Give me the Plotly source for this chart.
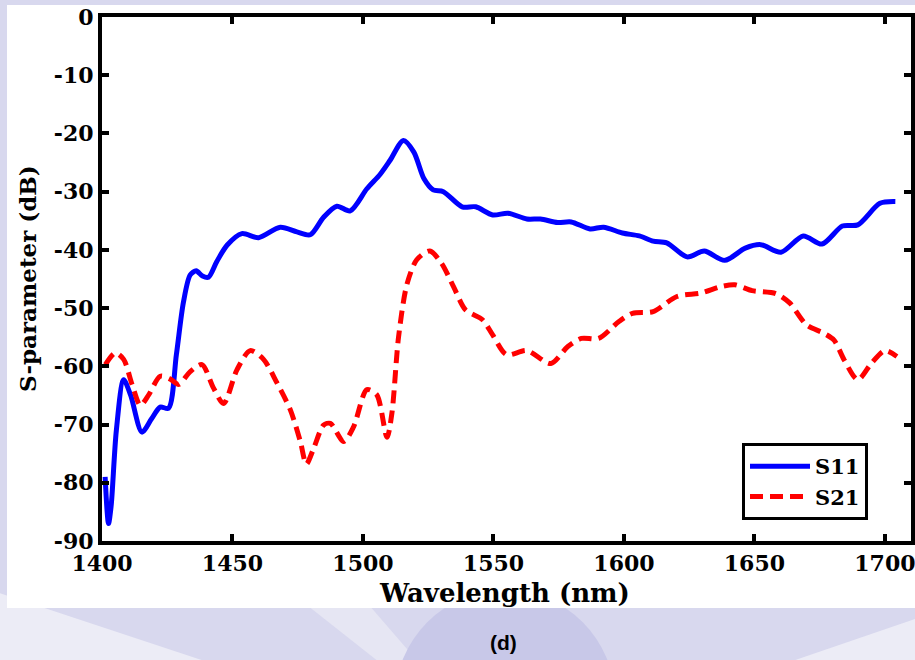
import plotly.graph_objects as go

# Wavelength sweep (nm) and S-parameter magnitudes (dB)
s11_wavelength = [1401.2, 1402.5, 1403.5, 1405.5, 1408.3, 1411.0, 1415.3, 1419.0, 1422.3, 1425.5,
                  1428.5, 1431.2, 1433.8, 1436.1, 1438.5, 1440.8, 1444.0, 1447.9, 1453.6, 1460.0,
                  1468.3, 1474.7, 1479.8, 1484.9, 1490.0, 1495.1, 1501.5, 1506.6, 1510.4, 1515.5,
                  1519.5, 1523.4, 1526.9, 1530.8, 1538.0, 1543.2, 1549.7, 1555.6, 1562.8, 1568.0,
                  1574.6, 1579.8, 1587.0, 1592.2, 1599.4, 1605.9, 1611.2, 1616.4, 1624.2, 1630.8,
                  1638.6, 1646.5, 1652.4, 1660.2, 1668.7, 1675.9, 1683.7, 1689.6, 1698.1, 1704.0]
s11_db = [-79.0, -87.0, -84.0, -71.0, -62.3, -65.0, -71.3, -69.0, -67.0, -67.2,
          -58.0, -49.0, -44.3, -43.6, -44.5, -44.7, -42.0, -39.2, -37.2, -37.9,
          -36.1, -36.9, -37.4, -34.4, -32.5, -33.3, -29.5, -27.0, -24.6, -21.2,
          -23.2, -27.8, -29.7, -30.0, -32.6, -32.6, -34.0, -33.7, -34.7, -34.7,
          -35.3, -35.2, -36.4, -36.1, -37.1, -37.6, -38.5, -38.8, -41.2, -40.2,
          -41.8, -39.7, -39.1, -40.4, -37.6, -39.0, -35.9, -35.7, -32.0, -31.7]

s21_wavelength = [1401.3, 1405.1, 1408.3, 1411.5, 1414.7, 1417.9, 1422.3, 1426.2, 1429.4, 1433.8,
                  1438.3, 1442.7, 1446.6, 1451.7, 1456.8, 1461.9, 1467.0, 1472.1, 1476.0, 1478.3,
                  1481.1, 1484.9, 1487.5, 1492.6, 1496.4, 1501.5, 1505.3, 1509.2, 1511.1, 1513.6,
                  1516.8, 1520.6, 1525.6, 1530.1, 1534.7, 1539.3, 1545.8, 1549.7, 1555.0, 1562.8,
                  1572.0, 1578.5, 1583.7, 1590.3, 1598.1, 1603.3, 1611.2, 1620.3, 1629.5, 1637.3,
                  1642.5, 1649.1, 1658.2, 1663.5, 1670.0, 1676.5, 1680.5, 1684.4, 1689.6, 1694.8,
                  1700.0, 1704.6]
s21_db = [-59.7, -57.7, -58.8, -63.1, -66.7, -64.9, -61.7, -62.2, -63.1, -60.9,
          -59.7, -63.7, -66.4, -60.6, -57.3, -58.8, -62.8, -67.4, -72.9, -76.8,
          -74.1, -70.1, -69.8, -72.9, -70.4, -64.0, -64.9, -72.2, -68.0, -55.1,
          -46.0, -41.7, -40.2, -42.3, -46.3, -50.3, -52.0, -54.6, -58.0, -57.3,
          -59.5, -56.6, -55.2, -55.2, -52.3, -50.9, -50.6, -48.0, -47.4, -46.3,
          -46.0, -47.0, -47.5, -49.1, -52.9, -54.3, -55.5, -58.9, -62.3, -59.5,
          -57.3, -58.3]

x_ticks = [1400, 1450, 1500, 1550, 1600, 1650, 1700]
x_tick_labels = ["1400", "1450", "1500", "1550", "1600", "1650", "1700"]
y_ticks = [0, -10, -20, -30, -40, -50, -60, -70, -80, -90]
y_tick_labels = ["0", "-10", "-20", "-30", "-40", "-50", "-60", "-70", "-80", "-90"]

# Figure geometry (pixels)
W, H = 915, 660
L, R, T, B = 102, 4, 17, 119
PW, PH = W - L - R, H - T - B


def px(x):
    return (x - L) / PW


def py(y):
    return (H - B - y) / PH


serif = "DejaVu Serif"

fig = go.Figure()
fig.add_trace(go.Scatter(
    x=s11_wavelength, y=s11_db, name="S11", mode="lines",
    line=dict(color="#0000ff", width=5, shape="spline", smoothing=0.8),
))
fig.add_trace(go.Scatter(
    x=s21_wavelength, y=s21_db, name="S21", mode="lines",
    line=dict(color="#ff0000", width=5, dash="13px,7px", shape="spline", smoothing=0.8),
))

# Page backdrop: lavender sunburst behind a white panel
shapes = [
    dict(type="path", xref="paper", yref="paper", layer="below", line=dict(width=0),
         fillcolor="#ececf6",
         path=f"M {px(503)},{py(760)} L {px(-100)},{py(560)} L {px(-100)},{py(660)} Z"),
    dict(type="path", xref="paper", yref="paper", layer="below", line=dict(width=0),
         fillcolor="#ececf6",
         path=f"M {px(503)},{py(760)} L {px(1000)},{py(590)} L {px(1000)},{py(680)} Z"),
    dict(type="path", xref="paper", yref="paper", layer="below", line=dict(width=0),
         fillcolor="#e6e6f3",
         path=f"M {px(503)},{py(760)} L {px(250)},{py(560)} L {px(330)},{py(560)} Z"),
    dict(type="circle", xref="paper", yref="paper", layer="below", line=dict(width=0),
         fillcolor="#c8c8e8",
         x0=px(395), x1=px(615), y0=py(590), y1=py(810)),
    dict(type="rect", xref="paper", yref="paper", layer="below", line=dict(width=0),
         fillcolor="white",
         x0=px(7), x1=px(915), y0=py(608), y1=py(5)),
]

axis_common = dict(
    showline=True, linecolor="black", linewidth=4, mirror="ticks",
    ticks="inside", ticklen=7, tickwidth=4, tickcolor="black",
    showgrid=False, zeroline=False, automargin=False, ticklabeloverflow="allow",
    tickfont=dict(family=serif, size=22, color="black", weight="bold"),
)

fig.update_layout(
    width=W, height=H,
    margin=dict(l=L, r=R, t=T, b=B),
    paper_bgcolor="#d8d8ee",
    plot_bgcolor="rgba(0,0,0,0)",
    shapes=shapes,
    xaxis=dict(range=[1400, 1710], tickvals=x_ticks, ticktext=x_tick_labels, **axis_common),
    yaxis=dict(range=[-90, 0], tickvals=y_ticks, ticktext=y_tick_labels, **axis_common),
    legend=dict(
        x=px(742), y=py(443), xanchor="left", yanchor="top",
        bgcolor="white", bordercolor="black", borderwidth=3,
        font=dict(family=serif, size=21, color="black", weight="bold"),
        itemwidth=60, tracegroupgap=0,
    ),
    annotations=[
        # axis titles
        dict(text="Wavelength (nm)", xref="paper", yref="paper", x=px(504), y=py(593),
             xanchor="center", yanchor="middle", showarrow=False,
             font=dict(family=serif, size=26, color="black", weight="bold")),
        dict(text="S-parameter (dB)", xref="paper", yref="paper", x=px(27), y=py(279),
             xanchor="center", yanchor="middle", showarrow=False, textangle=-90,
             font=dict(family=serif, size=23, color="black", weight="bold")),
        # panel label
        dict(text="(d)", xref="paper", yref="paper", x=px(503), y=py(642),
             xanchor="center", yanchor="middle", showarrow=False,
             font=dict(family="Liberation Sans", size=21, color="black", weight="bold")),
    ],
)

fig.write_html("out.html")
